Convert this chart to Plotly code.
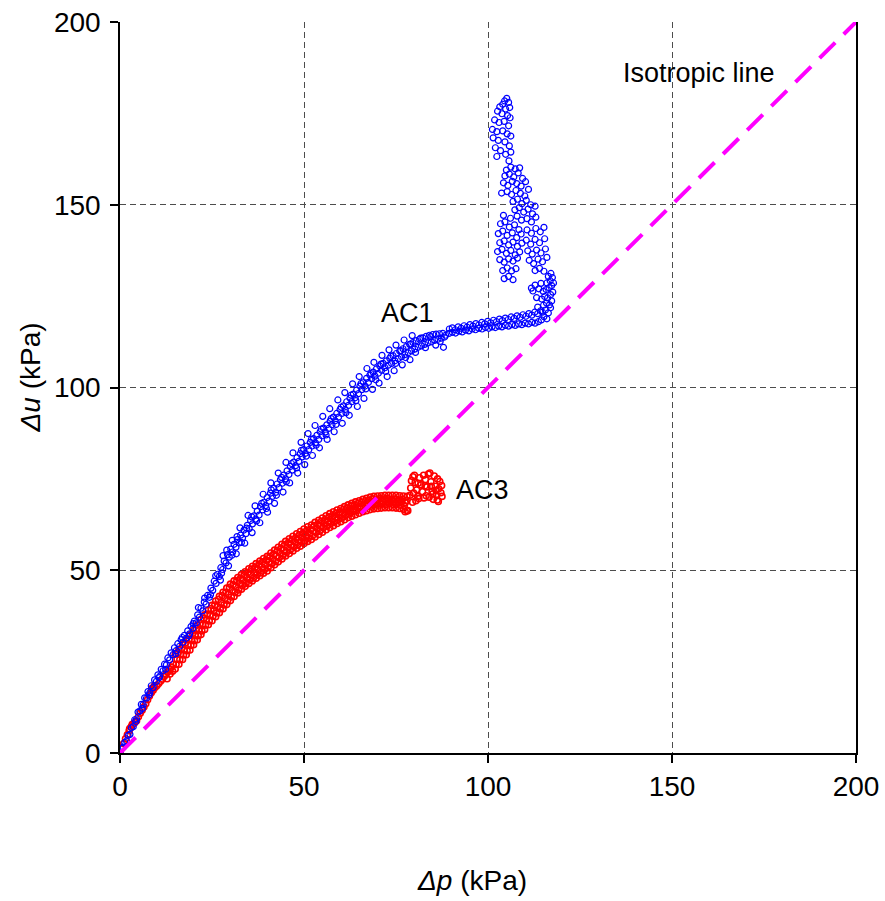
import plotly.graph_objects as go

# ---- AC1 test: pore-pressure change vs mean-stress change (kPa) ----
ac1_trend = [
    (0.0, 0.0), (0.4, 1.3), (0.9, 1.6), (1.3, 2.9), (1.8, 3.3), (2.2, 4.8), (2.7, 5.1), (3.1, 6.9),
    (3.6, 7.2), (4.0, 9.1), (4.5, 9.3), (4.9, 11.2), (5.4, 11.5), (5.8, 13.3), (6.3, 13.2), (6.7, 15.1),
    (7.2, 15.0), (7.6, 16.8), (8.1, 16.5), (8.5, 18.4), (9.0, 17.9), (9.4, 20.0), (9.9, 19.6), (10.3, 21.4),
    (10.8, 21.0), (11.2, 22.9), (11.7, 22.5), (12.1, 24.3), (12.6, 24.1), (13.0, 26.0), (13.5, 25.5),
    (13.9, 27.4), (14.4, 26.9), (14.8, 28.8), (15.3, 28.0), (15.7, 29.9), (16.2, 29.2), (16.6, 31.0),
    (17.1, 30.3), (17.5, 32.2), (18.0, 31.4), (18.4, 33.4), (18.9, 32.6), (19.3, 34.6), (19.8, 34.1),
    (20.2, 36.1), (20.7, 35.6), (21.1, 37.8), (21.6, 37.2), (22.0, 39.6), (22.5, 38.9), (22.9, 41.3),
    (23.4, 40.7), (23.8, 43.1), (24.3, 42.6), (24.7, 45.1), (25.2, 44.5), (25.6, 47.0), (26.1, 46.4),
    (26.5, 48.9), (27.0, 48.3), (27.4, 50.7), (27.9, 50.2), (28.3, 52.5), (28.8, 52.0), (29.2, 54.3),
    (29.7, 53.6), (30.1, 55.8), (30.6, 55.0), (31.0, 57.1), (31.5, 56.3), (31.9, 58.4), (32.4, 57.5),
    (32.8, 59.6), (33.3, 58.8), (33.7, 61.0), (34.2, 60.0), (34.6, 62.3), (35.1, 61.4), (35.5, 63.6),
    (36.0, 62.7), (36.4, 64.9), (36.9, 64.0), (37.3, 66.2), (37.8, 65.1), (38.2, 67.4), (38.7, 66.5),
    (39.1, 68.6), (39.6, 67.7), (40.0, 69.9), (40.5, 68.9), (40.9, 71.1), (41.4, 70.2), (41.8, 72.4),
    (42.3, 71.3), (42.7, 73.6), (43.2, 72.6), (43.6, 74.8), (44.1, 73.8), (44.5, 76.0), (45.0, 75.0),
    (45.4, 77.2), (45.9, 76.2), (46.3, 78.4), (46.8, 77.4), (47.2, 79.6), (47.7, 78.6), (48.1, 80.8),
    (48.6, 79.8), (49.0, 81.9), (49.5, 81.0), (49.9, 83.0), (50.4, 82.0), (50.8, 84.0), (51.3, 83.0),
    (51.7, 85.0), (52.2, 84.0), (52.6, 86.0), (53.1, 84.9), (53.5, 86.9), (54.0, 85.8), (54.4, 87.9),
    (54.9, 86.8), (55.3, 88.9), (55.8, 87.8), (56.2, 89.8), (56.7, 88.8), (57.1, 90.8), (57.6, 89.8),
    (58.0, 91.9), (58.5, 90.9), (58.9, 92.9), (59.4, 91.9), (59.8, 94.0), (60.3, 92.9), (60.7, 95.0),
    (61.2, 94.0), (61.6, 96.1), (62.1, 95.1), (62.5, 97.1), (63.0, 96.1), (63.4, 98.2), (63.9, 97.2),
    (64.3, 99.3), (64.8, 98.3), (65.2, 100.4), (65.7, 99.4), (66.1, 101.5), (66.6, 100.4), (67.0, 102.5),
    (67.5, 101.4), (67.9, 103.4), (68.4, 102.4), (68.8, 104.2), (69.3, 103.1), (69.7, 105.1), (70.2, 103.9),
    (70.6, 105.9), (71.1, 104.7), (71.5, 106.6), (72.0, 105.4), (72.4, 107.3), (72.9, 106.1), (73.3, 108.0),
    (73.8, 106.6), (74.2, 108.7), (74.7, 107.3), (75.1, 109.3), (75.6, 107.9), (76.0, 110.0), (76.5, 108.4),
    (76.9, 110.6), (77.4, 109.0), (77.8, 111.2), (78.3, 109.5), (78.7, 111.8), (79.2, 110.0), (79.6, 112.3),
    (80.1, 110.5), (80.5, 112.8), (81.0, 111.0), (81.4, 113.2), (81.9, 111.4), (82.3, 113.6), (82.8, 111.8),
    (83.2, 114.0), (83.7, 112.2), (84.1, 114.3), (84.6, 112.5), (85.0, 114.5), (85.5, 112.9), (85.9, 114.6),
    (86.4, 113.2), (86.8, 114.7), (87.3, 113.5), (87.7, 114.8), (88.2, 113.8),
]
# looser points scattered either side of the main trend
ac1_scatter = [
    (4.3, 8.6), (6.1, 12.2), (7.9, 15.9), (10.6, 20.6), (12.4, 22.9), (15.2, 27.2), (16.9, 31.6),
    (18.7, 32.0), (19.9, 35.4), (21.3, 39.8), (23.0, 42.4), (24.6, 43.3), (26.0, 48.5), (27.6, 49.2),
    (29.0, 55.5), (30.4, 54.1), (31.8, 59.2), (33.0, 57.6), (34.4, 61.5), (35.8, 64.6), (37.1, 63.5),
    (38.5, 68.3), (39.8, 66.9), (41.1, 72.0), (42.5, 70.5), (43.9, 75.4), (45.2, 74.2), (46.6, 79.2),
    (48.0, 78.0), (49.3, 82.8), (50.6, 81.2), (52.0, 85.8), (53.3, 84.2), (54.7, 88.6), (56.0, 87.0),
    (57.4, 91.5), (58.7, 89.9), (60.1, 94.6), (61.4, 93.1), (62.8, 97.9), (64.1, 96.4), (65.5, 101.1),
    (66.8, 99.6), (68.2, 103.8), (69.5, 102.1), (70.9, 106.4), (72.2, 104.4), (73.6, 108.5), (74.9, 106.6),
    (76.3, 110.1), (77.6, 108.2), (79.0, 111.9), (80.3, 109.6), (81.7, 113.5), (83.0, 110.9), (84.4, 113.9),
    (85.8, 111.6), (87.0, 112.6), (87.9, 111.0),
    (28.0, 54.0), (30.5, 58.2), (32.6, 61.6), (34.8, 65.0), (36.7, 67.6), (38.9, 70.8), (41.0, 73.9),
    (43.0, 76.6), (45.1, 79.5), (47.0, 82.1), (49.2, 85.0), (51.1, 87.4), (53.0, 89.6), (55.1, 92.1),
    (57.0, 94.2), (59.2, 96.6), (61.1, 98.6), (63.2, 101.0), (65.0, 103.0), (67.1, 105.2), (69.0, 106.9),
    (71.2, 108.8), (73.1, 110.3), (75.0, 111.6), (77.2, 113.0), (79.4, 114.2),
    (27.3, 47.3), (29.5, 51.2), (31.6, 54.5), (33.9, 57.4), (35.9, 60.3), (38.0, 63.0), (40.1, 65.9),
    (42.0, 68.3), (44.3, 71.4), (46.1, 73.9), (48.3, 76.6), (50.2, 78.9), (52.3, 81.4), (54.2, 83.5),
    (56.3, 85.8), (58.2, 87.9), (60.4, 90.2), (62.3, 92.4), (64.5, 94.8), (66.3, 97.0), (68.6, 99.5),
    (70.4, 101.2), (72.6, 103.0), (74.5, 104.6), (76.7, 106.2), (78.8, 107.6),
]
ac1_plateau = [
    (89.5, 116.0), (90.3, 116.3), (91.1, 115.8), (91.9, 116.6), (92.7, 116.2), (93.5, 116.9), (94.3, 116.5),
    (95.1, 117.2), (95.9, 116.8), (96.7, 117.5), (97.5, 117.1), (98.3, 117.8), (99.1, 117.4), (99.9, 118.1),
    (100.7, 117.7), (101.5, 118.4), (102.3, 118.0), (103.1, 118.7), (103.9, 118.3), (104.7, 119.0),
    (105.5, 118.6), (106.3, 119.3), (107.1, 118.9), (107.9, 119.6), (108.7, 119.2), (109.5, 119.9),
    (110.3, 119.5), (111.1, 120.2), (111.9, 119.8), (112.7, 120.6), (113.5, 120.2), (114.3, 121.0),
    (88.5, 114.3), (89.4, 114.8), (90.3, 115.1), (91.2, 114.9), (92.1, 115.4), (93.0, 115.2), (93.9, 115.7),
    (94.8, 115.5), (95.7, 116.0), (96.6, 115.8), (97.5, 116.2), (98.4, 116.0), (99.3, 116.4), (100.2, 116.2),
    (101.1, 116.6), (102.0, 116.4), (102.9, 116.8), (103.8, 116.6), (104.7, 117.0), (105.6, 116.8),
    (106.5, 117.2), (107.4, 117.0), (108.3, 117.4), (109.2, 117.2), (110.1, 117.6), (111.0, 117.4),
    (111.9, 117.8), (112.8, 117.6), (113.7, 118.0),
]
ac1_rise = [
    (114.5, 118.5), (115.2, 119.4), (116.0, 118.8), (114.8, 120.6), (115.6, 121.2), (116.4, 120.4),
    (117.0, 121.8), (115.1, 122.5), (115.9, 123.1), (116.7, 122.6), (117.3, 123.7), (114.6, 124.2),
    (115.4, 124.9), (116.2, 124.5), (117.0, 125.4), (117.6, 126.1), (115.0, 126.3), (115.8, 126.8),
    (116.6, 127.3), (117.3, 127.9), (116.0, 128.6), (116.9, 129.2), (117.5, 130.1), (116.4, 130.4),
    (117.1, 131.2), (113.2, 124.6), (113.8, 127.0), (114.4, 128.5), (113.5, 122.0), (117.8, 128.6),
    (112.2, 126.4), (112.8, 128.0), (111.8, 127.2),
]
ac1_peak = [
    (105.0, 159.5), (106.2, 160.3), (107.4, 159.8), (108.6, 160.1), (104.6, 157.9), (105.8, 158.4),
    (107.0, 157.6), (108.2, 158.7), (109.4, 157.2), (104.2, 156.0), (105.4, 155.3), (106.6, 156.4),
    (107.8, 155.8), (109.0, 155.1), (110.2, 156.3), (105.2, 153.6), (106.4, 152.8), (107.6, 153.9),
    (108.8, 153.1), (110.0, 152.4), (111.0, 154.2), (103.7, 153.2), (106.8, 150.9), (108.0, 151.5),
    (109.2, 150.3), (110.4, 151.2), (111.6, 150.0), (107.3, 148.6), (108.5, 149.2), (109.7, 148.0),
    (110.9, 148.8), (112.1, 147.5), (112.8, 149.6), (104.2, 147.1), (106.1, 146.3), (107.9, 146.9),
    (109.1, 145.8), (110.6, 146.2), (111.8, 145.3), (113.0, 146.6), (103.4, 144.8), (104.6, 145.3),
    (105.8, 143.9), (107.2, 144.5), (108.4, 143.2), (102.8, 142.1), (104.0, 142.8), (105.2, 141.6),
    (106.6, 142.3), (107.8, 141.0), (109.0, 142.0), (110.6, 143.1), (111.8, 142.2), (113.0, 143.5),
    (114.2, 142.6), (115.2, 143.8), (103.2, 139.6), (104.4, 140.1), (105.6, 139.0), (106.8, 139.8),
    (108.0, 138.6), (109.2, 139.5), (110.4, 140.3), (111.6, 139.2), (112.8, 140.5), (114.0, 139.6),
    (115.4, 140.7), (102.6, 137.2), (103.8, 137.8), (105.0, 136.7), (106.2, 137.5), (107.4, 136.3),
    (108.6, 137.1), (110.8, 137.4), (112.0, 136.5), (113.2, 137.6), (114.4, 136.8), (115.6, 137.9),
    (103.2, 135.0), (104.4, 134.3), (105.6, 135.2), (106.8, 134.6), (108.0, 135.4), (111.2, 134.8),
    (112.4, 133.9), (113.6, 135.1), (114.8, 134.4), (116.0, 135.6), (104.0, 132.0), (105.2, 132.7),
    (106.4, 131.9), (107.6, 132.5), (112.8, 132.0), (114.0, 132.6), (115.2, 131.8), (104.4, 129.8),
    (105.6, 130.4), (106.8, 129.5),
    (105.1, 179.1), (104.5, 178.4), (105.6, 178.0), (104.0, 177.5), (103.2, 176.8), (104.8, 176.2),
    (105.9, 176.6), (102.6, 175.6), (103.8, 174.9), (105.3, 174.4), (106.0, 173.8), (101.8, 173.2),
    (103.0, 172.5), (104.4, 172.8), (105.6, 171.6), (101.2, 170.6), (102.4, 170.0), (104.0, 170.2),
    (105.2, 169.4), (106.2, 168.8), (101.4, 168.3), (102.8, 167.6), (104.6, 167.2), (105.8, 166.1),
    (102.0, 165.6), (103.4, 164.8), (102.4, 163.2), (106.2, 164.4), (105.7, 162.0), (104.8, 163.8),
]

# ---- AC3 test ----
ac3_start = [
    (0.0, 0.0), (0.5, 1.3), (1.0, 2.6), (1.5, 3.9), (2.0, 5.0), (2.5, 6.1), (3.0, 7.1), (3.5, 7.9),
    (4.0, 8.3), (4.5, 8.8), (5.0, 9.9), (5.5, 10.9), (6.0, 11.7), (6.5, 12.6), (7.0, 13.5), (7.5, 14.6),
    (8.0, 15.6), (8.5, 16.5), (9.0, 17.2), (9.5, 17.9), (10.0, 18.4), (10.5, 19.0), (11.0, 19.6),
    (11.5, 20.2), (12.0, 20.9), (12.5, 21.5), (13.0, 22.2), (13.5, 22.8), (14.0, 23.5),
    (8.6, 17.6), (9.3, 18.3), (12.8, 20.3), (13.6, 21.6), (14.3, 22.4), (3.3, 7.8), (2.6, 6.6),
]
# the main AC3 band, read as five neighbouring tracks (upper edge ... lower edge)
ac3_upper_p = list(range(15, 79))
ac3_upper_u = [
    27.0, 28.3, 29.7, 31.0, 32.3, 33.6, 35.0, 36.5, 37.8, 39.1, 40.4, 41.6, 42.9, 44.0, 45.1, 46.2,
    47.1, 48.0, 48.8, 49.6, 50.4, 51.1, 51.8, 52.5, 53.2, 53.8, 54.7, 55.5, 56.3, 57.1, 57.9, 58.6,
    59.3, 60.0, 60.6, 61.3, 61.9, 62.4, 63.1, 63.7, 64.3, 64.9, 65.5, 66.0, 66.5, 66.9, 67.4, 67.9,
    68.3, 68.7, 69.0, 69.4, 69.7, 70.0, 70.2, 70.3, 70.4, 70.5, 70.5, 70.5, 70.5, 70.4, 70.3, 70.2,
]
ac3_upmid_p = [p + 0.75 for p in range(15, 78)]
ac3_upmid_u = [
    27.4, 28.6, 30.1, 31.2, 32.7, 34.0, 35.4, 36.9, 38.0, 39.5, 40.5, 42.0, 43.1, 44.0, 45.3, 46.1,
    47.2, 47.8, 48.8, 49.4, 50.3, 50.8, 51.6, 52.3, 52.8, 53.8, 54.4, 55.4, 56.0, 57.0, 57.5, 58.4,
    58.9, 59.7, 60.1, 60.9, 61.2, 62.2, 62.6, 63.4, 63.8, 64.6, 64.9, 65.6, 65.9, 66.7, 67.0, 67.6,
    67.9, 68.3, 68.6, 69.0, 69.1, 69.5, 69.4, 69.6, 69.5, 69.6, 69.4, 69.5, 69.2, 69.4, 69.0,
]
ac3_mid_p = [p + 0.5 for p in range(14, 78)]
ac3_mid_u = [
    24.3, 25.7, 27.0, 28.2, 29.6, 30.9, 32.3, 33.7, 35.1, 36.5, 37.8, 39.0, 40.1, 41.2, 42.3, 43.4,
    44.5, 45.5, 46.4, 47.3, 48.1, 48.8, 49.5, 50.2, 50.9, 51.6, 52.3, 53.1, 53.9, 54.7, 55.5, 56.3,
    57.0, 57.7, 58.3, 58.9, 59.5, 60.1, 60.8, 61.5, 62.2, 62.8, 63.4, 64.0, 64.5, 65.1, 65.5, 66.0,
    66.4, 66.8, 67.2, 67.5, 67.9, 68.2, 68.5, 68.6, 68.7, 68.8, 68.8, 68.8, 68.8, 68.8, 68.7, 68.5,
]
ac3_lowmid_p = [p + 0.25 for p in range(15, 78)]
ac3_lowmid_u = [
    24.2, 25.5, 26.8, 28.0, 29.4, 30.7, 32.1, 33.4, 35.0, 36.1, 37.4, 38.3, 39.5, 40.5, 41.7, 42.7,
    43.9, 44.6, 45.8, 46.4, 47.4, 47.9, 48.8, 49.3, 50.2, 50.7, 51.8, 52.4, 53.4, 54.0, 54.9, 55.5,
    56.4, 56.9, 57.7, 58.1, 58.9, 59.3, 60.3, 60.7, 61.6, 62.1, 62.8, 63.2, 63.9, 64.3, 65.0, 65.4,
    66.0, 66.2, 66.8, 67.0, 67.5, 67.5, 67.9, 67.8, 68.1, 68.0, 68.2, 68.0, 68.1, 67.8, 67.7,
]
ac3_lower_p = list(range(15, 79))
ac3_lower_u = [
    23.0, 24.3, 25.6, 26.9, 28.2, 29.6, 31.0, 32.4, 33.8, 35.1, 36.2, 37.3, 38.4, 39.5, 40.6, 41.7,
    42.8, 43.8, 44.8, 45.6, 46.4, 47.1, 47.8, 48.5, 49.2, 49.8, 50.7, 51.5, 52.3, 53.1, 53.9, 54.6,
    55.3, 56.0, 56.6, 57.3, 57.9, 58.4, 59.1, 59.8, 60.4, 61.1, 61.7, 62.2, 62.8, 63.3, 63.8, 64.4,
    64.8, 65.2, 65.6, 66.0, 66.3, 66.6, 66.8, 66.9, 67.0, 67.1, 67.1, 67.1, 67.0, 66.9, 66.7, 66.3,
]
ac3_end = [
    (78.8, 70.5), (79.0, 72.5), (79.2, 74.5), (79.6, 75.6), (80.2, 74.0), (80.6, 72.0), (80.9, 70.2),
    (81.4, 75.3), (81.8, 73.4), (82.2, 71.5), (82.6, 69.8), (83.0, 74.8), (83.4, 72.8), (83.8, 76.3),
    (84.2, 76.6), (84.5, 74.2), (84.8, 71.6), (85.1, 69.4), (85.4, 75.8), (85.7, 73.0), (86.0, 70.5),
    (86.3, 75.0), (86.6, 72.3), (86.9, 74.3), (87.2, 71.2), (87.4, 73.2), (86.2, 69.2), (85.0, 70.9),
    (83.2, 70.4), (81.2, 69.6), (80.0, 76.0), (82.5, 76.0), (84.0, 70.0), (86.5, 68.8), (87.5, 70.2),
    (77.5, 66.0), (78.2, 66.3), (79.8, 71.1), (81.0, 73.8), (82.9, 73.1), (84.6, 73.0), (85.9, 71.8),
    (80.4, 69.0), (79.5, 68.6),
]

iso_p = [0, 200]
iso_u = [0, 200]

ac1 = ac1_trend + ac1_scatter + ac1_plateau + ac1_rise + ac1_peak
ac1_p = [a for a, _ in ac1]
ac1_u = [b for _, b in ac1]
ac3_p = ([a for a, _ in ac3_start] + ac3_upper_p + ac3_upmid_p + ac3_mid_p + ac3_lowmid_p
         + ac3_lower_p + [a for a, _ in ac3_end])
ac3_u = ([b for _, b in ac3_start] + ac3_upper_u + ac3_upmid_u + ac3_mid_u + ac3_lowmid_u
         + ac3_lower_u + [b for _, b in ac3_end])

FONT = "Liberation Sans, Arial, Helvetica, sans-serif"

fig = go.Figure()
fig.add_trace(go.Scatter(
    x=ac3_p, y=ac3_u, mode="markers", name="AC3",
    marker=dict(symbol="circle-open", size=6, color="#FF0000", line=dict(width=1.6, color="#FF0000")),
))
fig.add_trace(go.Scatter(
    x=ac1_p, y=ac1_u, mode="markers", name="AC1",
    marker=dict(symbol="circle-open", size=6, color="#0000FF", line=dict(width=1.2, color="#0000FF")),
))
fig.add_trace(go.Scatter(
    x=iso_p, y=iso_u, mode="lines", name="Isotropic line",
    line=dict(color="#FF00FF", width=4, dash="22px,12px"),
))

axis_common = dict(
    range=[0, 200], dtick=50, tick0=0, automargin=False,
    showline=True, linecolor="black", linewidth=1.5,
    ticks="outside", ticklen=8, tickcolor="black", tickwidth=1.5,
    showgrid=True, gridcolor="#4d4d4d", gridwidth=1, griddash="6px,4px",
    zeroline=False,
    tickfont=dict(family=FONT, size=28, color="black"),
)
fig.update_xaxes(**axis_common)
fig.update_yaxes(**axis_common, mirror=True, ticklabelstandoff=4)

# axis titles
fig.add_annotation(text="<i>Δp</i> (kPa)", xref="paper", yref="paper", x=0.478, y=-0.175,
                   xanchor="center", yanchor="middle", showarrow=False,
                   font=dict(family=FONT, size=28, color="black"))
fig.add_annotation(text="<i>Δu</i> (kPa)", xref="paper", yref="paper", x=-0.122, y=0.514,
                   xanchor="center", yanchor="middle", showarrow=False, textangle=-90,
                   font=dict(family=FONT, size=28, color="black"))

# in-plot labels
for txt, x, y in [("Isotropic line", 157.2, 186.0), ("AC1", 78.0, 120.3), ("AC3", 98.6, 72.0)]:
    fig.add_annotation(x=x, y=y, text=txt, showarrow=False,
                       font=dict(family=FONT, size=27, color="black"))

fig.update_layout(
    width=885, height=901,
    margin=dict(l=120, r=29, t=22, b=148),
    paper_bgcolor="white", plot_bgcolor="white",
    showlegend=False,
)

fig.write_html("out.html")
